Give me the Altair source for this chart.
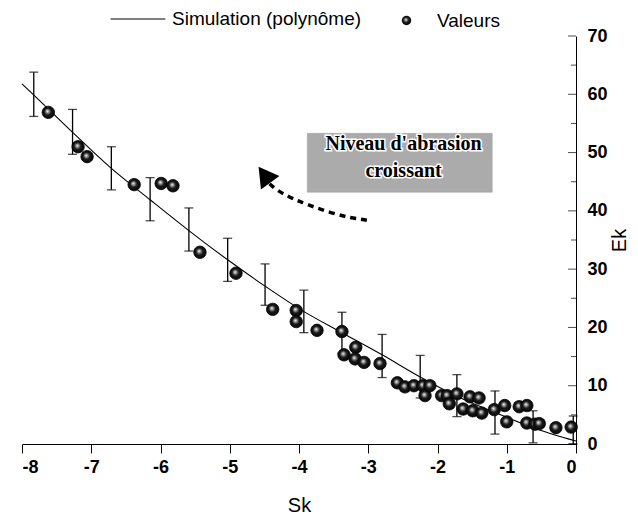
import altair as alt
import pandas as pd

# ---- data ----
curve_sk = [-8.0, -7.84, -7.28, -6.73, -6.15, -5.60, -5.03, -4.48, -3.94, -3.38, -2.80, -2.25, -1.72, -1.17, -0.62, 0.0]
curve_ek = [61.8, 60.0, 53.6, 47.5, 41.9, 36.7, 31.6, 27.0, 22.8, 19.1, 15.3, 11.5, 8.2, 5.4, 2.8, 0.5]

err_sk = [-7.83, -7.27, -6.71, -6.15, -5.59, -5.03, -4.49, -3.93, -3.38, -2.80, -2.25, -1.72, -1.17, -0.62, -0.04]
err_lo = [56.2, 49.7, 43.6, 38.3, 33.1, 27.9, 23.8, 19.1, 15.6, 11.4, 7.9, 4.7, 1.7, 0.2, 0.0]
err_hi = [63.8, 57.4, 51.0, 45.7, 40.5, 35.3, 30.9, 26.4, 22.6, 18.8, 15.2, 11.9, 9.1, 5.7, 4.8]

pt_sk = [-7.62, -7.19, -7.06, -6.38, -5.99, -5.82, -5.43, -4.91, -4.38, -4.04, -4.04, -3.74,
         -3.38, -3.35, -3.18, -3.19, -3.06, -2.83, -2.58, -2.47, -2.34, -2.21, -2.18, -2.11,
         -1.94, -1.86, -1.83, -1.72, -1.63, -1.53, -1.49, -1.40, -1.36, -1.18, -1.03, -1.00,
         -0.82, -0.71, -0.71, -0.59, -0.53, -0.29, -0.07]
pt_ek = [56.9, 51.0, 49.3, 44.5, 44.7, 44.3, 32.9, 29.3, 23.1, 22.9, 21.0, 19.5,
         19.3, 15.3, 16.6, 14.6, 14.0, 13.8, 10.5, 9.8, 10.0, 10.0, 8.3, 10.0,
         8.3, 8.3, 6.9, 8.6, 6.0, 8.1, 5.7, 7.9, 5.3, 5.9, 6.6, 3.8,
         6.4, 6.6, 3.6, 3.4, 3.5, 2.8, 2.9]

ytick_major = [0, 10, 20, 30, 40, 50, 60, 70]
ytick_minor = [5, 15, 25, 35, 45, 55, 65]
xtick_vals = [-8, -7, -6, -5, -4, -3, -2, -1, 0]

box_sk = [-3.88]
box_sk2 = [-1.21]
box_ek = [53.3]
box_ek2 = [43.2]
label_lines = ["Niveau d'abrasion", "croissant"]
label_sk = [-2.49, -2.49]
label_ek = [51.5, 46.8]

arrow_sk = [-3.02, -3.26, -3.55, -3.84, -4.10, -4.33, -4.43]
arrow_ek = [38.4, 38.8, 39.7, 40.9, 42.1, 43.6, 44.7]
head_sk = [-4.50]
head_ek = [46.2]

SIM = "Simulation (polynôme)"
VAL = "Valeurs"

curve_df = pd.DataFrame({"Sk": curve_sk, "Ek": curve_ek, "serie": SIM})
err_df = pd.DataFrame({"Sk": err_sk, "lo": err_lo, "hi": err_hi})
pt_df = pd.DataFrame({"Sk": pt_sk, "Ek": pt_ek, "serie": VAL})
maj_df = pd.DataFrame({"Ek": ytick_major, "Sk": 0})
min_df = pd.DataFrame({"Ek": ytick_minor, "Sk": 0})
box_df = pd.DataFrame({"x": box_sk, "x2": box_sk2, "y": box_ek, "y2": box_ek2})
lab_df = pd.DataFrame({"Sk": label_sk, "Ek": label_ek, "t": label_lines})
arr_df = pd.DataFrame({"Sk": arrow_sk, "Ek": arrow_ek, "i": list(range(len(arrow_sk)))})
head_df = pd.DataFrame({"Sk": head_sk, "Ek": head_ek})

FONT = "Liberation Sans"

xscale = alt.Scale(domain=[-8, 0], nice=False, zero=False)
yscale = alt.Scale(domain=[0, 70], nice=False)

x_axis = alt.Axis(
    values=xtick_vals, labelExpr="'' + datum.value", title="Sk", grid=False,
    tickSize=9, tickColor="black", domainColor="black", labelPadding=5,
    labelFont=FONT, labelFontSize=18, labelFontWeight="bold", labelColor="black",
    titleFont=FONT, titleFontSize=20, titleFontWeight="normal", titleColor="black",
    titlePadding=19,
)
y_axis = alt.Axis(
    orient="right", values=ytick_major, ticks=False, title="Ek", grid=False,
    domainColor="black", labelPadding=11, labelFont=FONT, labelFontSize=18,
    labelFontWeight="bold", labelColor="black",
    titleFont=FONT, titleFontSize=20, titleFontWeight="normal", titleColor="black",
    titleAngle=270, titlePadding=22,
)

X = alt.X("Sk:Q", scale=xscale, axis=x_axis)
Y = alt.Y("Ek:Q", scale=yscale, axis=y_axis)

curve = alt.Chart(curve_df).mark_line(strokeWidth=1.1, interpolate="monotone").encode(
    x=X, y=Y,
    color=alt.Color("serie:N", scale=alt.Scale(domain=[SIM], range=["black"]),
                    legend=alt.Legend(title=None, orient="none", legendX=88, legendY=-45,
                                      symbolType="stroke", symbolSize=3000, symbolStrokeWidth=1,
                                      labelFont=FONT, labelFontSize=19, labelColor="black",
                                      labelLimit=0, labelOffset=6, padding=0)),
)

bars = alt.Chart(err_df).mark_rule(color="black", strokeWidth=1.3).encode(
    x=alt.X("Sk:Q", scale=xscale), y=alt.Y("lo:Q", scale=yscale), y2="hi:Q"
)
cap_hi = alt.Chart(err_df).mark_tick(orient="horizontal", color="black", size=9, thickness=1.3).encode(
    x=alt.X("Sk:Q", scale=xscale), y=alt.Y("hi:Q", scale=yscale)
)
cap_lo = alt.Chart(err_df).mark_tick(orient="horizontal", color="black", size=9, thickness=1.3).encode(
    x=alt.X("Sk:Q", scale=xscale), y=alt.Y("lo:Q", scale=yscale)
)

sphere = alt.RadialGradient(
    gradient="radial",
    stops=[alt.GradientStop(color="#ffffff", offset=0),
           alt.GradientStop(color="#a0a0a0", offset=0.18),
           alt.GradientStop(color="#1a1a1a", offset=0.45),
           alt.GradientStop(color="#000000", offset=1)],
    x1=0.42, y1=0.4, r1=0, x2=0.5, y2=0.5, r2=0.6,
)
points = alt.Chart(pt_df).mark_point(filled=True, fill=sphere, stroke="black", strokeWidth=0.8,
                                     size=155, opacity=1).encode(
    x=alt.X("Sk:Q", scale=xscale), y=alt.Y("Ek:Q", scale=yscale),
    shape=alt.Shape("serie:N", scale=alt.Scale(domain=[VAL], range=["circle"]),
                    legend=alt.Legend(title=None, orient="none", legendX=375, legendY=-25,
                                      symbolSize=90, symbolFillColor="black",
                                      symbolStrokeColor="black",
                                      labelFont=FONT, labelFontSize=19, labelColor="black",
                                      labelLimit=0, labelOffset=21, padding=0)),
)

maj_ticks = alt.Chart(maj_df).mark_tick(orient="horizontal", color="black", size=8, thickness=1,
                                        xOffset=-4).encode(
    x=alt.X("Sk:Q", scale=xscale), y=alt.Y("Ek:Q", scale=yscale)
)
min_ticks = alt.Chart(min_df).mark_tick(orient="horizontal", color="black", size=5, thickness=1,
                                        xOffset=-2.5).encode(
    x=alt.X("Sk:Q", scale=xscale), y=alt.Y("Ek:Q", scale=yscale)
)

box = alt.Chart(box_df).mark_rect(color="#ababab", stroke="#9a9a9a", strokeWidth=0.5).encode(
    x=alt.X("x:Q", scale=xscale), x2="x2:Q", y=alt.Y("y:Q", scale=yscale), y2="y2:Q"
)
halo = alt.Chart(lab_df).mark_text(font="Liberation Serif", fontSize=20, fontWeight="bold",
                                   stroke="white", strokeWidth=3, fill="white").encode(
    x=alt.X("Sk:Q", scale=xscale), y=alt.Y("Ek:Q", scale=yscale), text="t:N"
)
text = alt.Chart(lab_df).mark_text(font="Liberation Serif", fontSize=20, fontWeight="bold",
                                   color="black").encode(
    x=alt.X("Sk:Q", scale=xscale), y=alt.Y("Ek:Q", scale=yscale), text="t:N"
)

arrow = alt.Chart(arr_df).mark_line(color="black", strokeWidth=3.5, strokeDash=[6, 5],
                                    interpolate="basis").encode(
    x=alt.X("Sk:Q", scale=xscale), y=alt.Y("Ek:Q", scale=yscale), order="i:Q"
)
head = alt.Chart(head_df).mark_point(shape="triangle-up", filled=True, color="black",
                                     size=520, angle=324, opacity=1).encode(
    x=alt.X("Sk:Q", scale=xscale), y=alt.Y("Ek:Q", scale=yscale)
)

base_axes = alt.Chart(curve_df).mark_line(opacity=0).encode(x=X, y=Y)

chart = alt.layer(
    base_axes, box, halo, text, arrow, head, bars, cap_hi, cap_lo, curve, points,
    maj_ticks, min_ticks,
).resolve_legend(color="independent", shape="independent").properties(
    width=554, height=408,
    autosize=alt.AutoSizeParams(type="none"),
    padding={"left": 14, "top": 28, "right": 54, "bottom": 72},
    background="white",
).configure_view(stroke=None)

chart.save("out.html", embed_options={"renderer": "svg", "actions": False})
